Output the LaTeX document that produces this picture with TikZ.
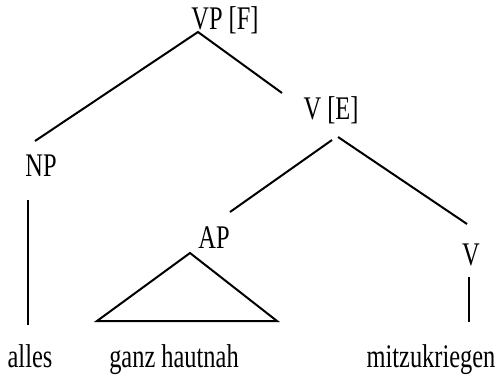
\documentclass[tikz,border=0pt]{standalone}
\usepackage{fontspec}
\setmainfont[FakeStretch=0.74]{Liberation Serif}
\begin{document}
\begin{tikzpicture}[x=1pt,y=-1pt,
  lbl/.style={inner sep=0pt,anchor=base,font=\fontsize{33}{38}\selectfont},
  edge/.style={line width=2pt}]
\useasboundingbox (0,0) rectangle (502,377);
% labels
\node[lbl] (vp) at (225,30) {VP [F]};
\node[lbl] (np) at (41,176) {NP};
\node[lbl] (ve) at (331,119) {V [E]};
\node[lbl] (ap) at (214,248) {AP};
\node[lbl] (v) at (471,265) {V};
\node[lbl] (alles) at (30,367) {alles};
\node[lbl] (ganz) at (174,367) {ganz hautnah};
\node[lbl] (mitz) at (431,367) {mitzukriegen};
% connector ends
\coordinate (vpA) at (198,32);
\coordinate (npT) at (35,141);
\coordinate (veT) at (282,93);
\coordinate (veL) at (332,140);
\coordinate (veR) at (338,137);
\coordinate (apT) at (230,212);
\coordinate (vT) at (467,224);
\coordinate (npB) at (28,200);
\coordinate (allesT) at (28,325);
\coordinate (triA) at (190,253);
\coordinate (triL) at (97,321);
\coordinate (triR) at (277,321);
\coordinate (vB) at (469,277);
\coordinate (mitzT) at (469,322);
% edges
\draw[edge] (npT) -- (vpA) -- (veT);
\draw[edge] (veL) -- (apT);
\draw[edge] (veR) -- (vT);
\draw[edge] (npB) -- (allesT);
\draw[edge,line join=miter] (triL) -- (triA) -- (triR) -- cycle;
\draw[edge] (vB) -- (mitzT);
\end{tikzpicture}
\end{document}
